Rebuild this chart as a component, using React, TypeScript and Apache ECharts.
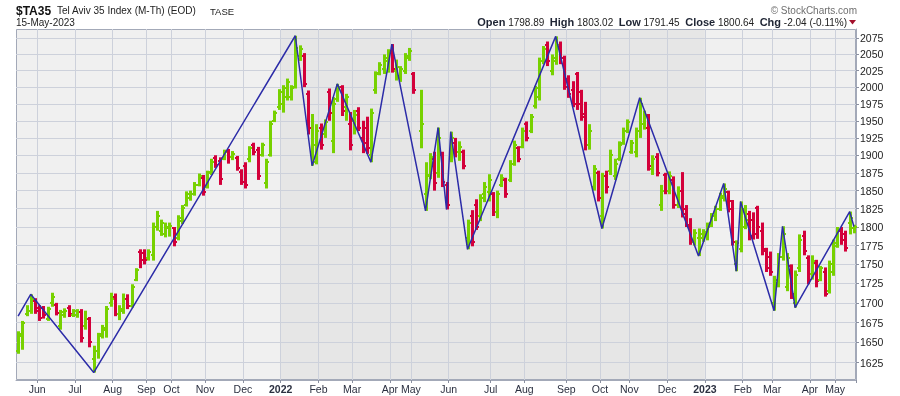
import React, { useEffect, useRef } from "react";
import * as echarts from "echarts";

// ---------- data ----------
const monthLabels = ["", "Jun", "Jul", "Aug", "Sep", "Oct", "Nov", "Dec", "2022", "Feb", "Mar", "Apr", "May", "Jun", "Jul", "Aug", "Sep", "Oct", "Nov", "Dec", "2023", "Feb", "Mar", "Apr", "May"];
const monthBarCounts = [5, 9, 9, 8, 6, 8, 9, 9, 9, 8, 9, 5, 9, 10, 8, 10, 8, 7, 9, 9, 9, 7, 9, 6, 5];

// [open, high, low, close] per bar (null = no trading)
const bars: (number[] | null)[] = [
  [1640, 1664, 1636, 1660], [1658, 1677, 1641, 1674], [1686, 1697, 1683, 1690], [1690, 1711, 1686, 1704], [1702, 1706, 1686, 1690],
  [1694, 1697, 1677, 1681], [1693, 1696, 1680, 1684], [1680, 1695, 1677, 1692], [1700, 1713, 1695, 1708], [1697, 1700, 1684, 1687],
  [1670, 1691, 1666, 1688], [1684, 1693, 1681, 1690], [1694, 1697, 1682, 1686], [1685, 1692, 1682, 1689], [1684, 1692, 1681, 1688],
  [1688, 1692, 1650, 1656], [1670, 1690, 1666, 1680], [1680, 1682, 1644, 1650], [1630, 1646, 1613, 1640], [1640, 1662, 1630, 1658],
  [1660, 1672, 1655, 1668], [1665, 1696, 1656, 1692], [1700, 1713, 1695, 1705], [1708, 1712, 1683, 1686], [1686, 1697, 1678, 1692],
  [1690, 1712, 1686, 1705], [1705, 1711, 1692, 1696], [1696, 1724, 1694, 1720], [1730, 1745, 1728, 1742], [1766, 1770, 1745, 1756],
  [1765, 1770, 1750, 1756], [1758, 1770, 1755, 1766], [1762, 1806, 1755, 1800], [1800, 1822, 1795, 1815], [1795, 1810, 1788, 1805],
  [1790, 1806, 1786, 1800], [1798, 1806, 1787, 1802], [1798, 1800, 1774, 1780], [1785, 1816, 1782, 1812], [1808, 1830, 1804, 1826],
  [1830, 1849, 1828, 1845], [1840, 1850, 1836, 1846], [1846, 1862, 1843, 1858], [1858, 1874, 1856, 1870], [1868, 1872, 1843, 1848],
  [1855, 1878, 1853, 1875], [1876, 1895, 1872, 1890], [1896, 1900, 1882, 1886], [1892, 1897, 1858, 1866], [1895, 1908, 1893, 1905],
  [1906, 1909, 1888, 1898], [1898, 1906, 1893, 1902], [1896, 1899, 1878, 1882], [1876, 1880, 1858, 1862], [1885, 1890, 1853, 1858],
  [1895, 1913, 1890, 1910], [1915, 1918, 1900, 1904], [1908, 1912, 1865, 1870], [1900, 1918, 1898, 1914], [1860, 1895, 1853, 1890],
  [1900, 1950, 1898, 1945], [1950, 1965, 1948, 1962], [1970, 1997, 1966, 1992], [1975, 2003, 1962, 1998], [1985, 2013, 1980, 2008],
  [1985, 2003, 1980, 1998], [2000, 2079, 1998, 2060], [2048, 2064, 2040, 2058], [2048, 2052, 2000, 2005], [1990, 1995, 1930, 1940],
  [1905, 1960, 1885, 1915], [1890, 1945, 1887, 1935], [1940, 1946, 1908, 1915], [1930, 1952, 1925, 1948], [1993, 1998, 1950, 1962],
  [1920, 1985, 1903, 1975], [1982, 2005, 1978, 2000], [2000, 2003, 1957, 1965], [1970, 1990, 1950, 1985], [1945, 1963, 1907, 1915],
  [1950, 1966, 1930, 1958], [1965, 1970, 1935, 1940], [1925, 1950, 1903, 1918], [1940, 1956, 1902, 1910], [1900, 1968, 1890, 1962],
  [1995, 2024, 1990, 2020], [2022, 2038, 2018, 2034], [2028, 2050, 2020, 2045], [2040, 2058, 2022, 2052], [2055, 2066, 2022, 2028],
  [2025, 2042, 2010, 2030], [2015, 2032, 2008, 2028], [2025, 2052, 2020, 2048], [2045, 2060, 2040, 2056], [2020, 2023, 1990, 1995],
  null, [1935, 1996, 1910, 1945], [1845, 1890, 1822, 1870], [1872, 1903, 1866, 1898], [1895, 1905, 1850, 1860],
  [1875, 1940, 1868, 1925], [1900, 1905, 1855, 1862], [1858, 1862, 1824, 1830], [1895, 1934, 1890, 1925], [1918, 1925, 1897, 1905],
  [1905, 1920, 1892, 1912], [1905, 1908, 1880, 1885], [1785, 1810, 1770, 1805], [1815, 1823, 1774, 1780], [1830, 1838, 1796, 1800],
  [1815, 1845, 1808, 1840], [1845, 1862, 1834, 1855], [1848, 1873, 1835, 1865], [1845, 1848, 1815, 1820], [1820, 1850, 1812, 1845],
  [1858, 1873, 1855, 1868], [1865, 1868, 1840, 1845], [1865, 1893, 1862, 1888], [1888, 1921, 1885, 1915], [1910, 1913, 1890, 1895],
  [1912, 1940, 1910, 1935], [1945, 1949, 1920, 1925], [1935, 1960, 1932, 1955], [1972, 2002, 1968, 1998], [1985, 2045, 1980, 2040],
  [2040, 2063, 2035, 2058], [2065, 2070, 2032, 2040], [2025, 2050, 2018, 2045], [2040, 2078, 2034, 2065], [2062, 2070, 2035, 2045],
  [2045, 2048, 1996, 2000], [2012, 2018, 1984, 1990], [1995, 2009, 1970, 1975], [2020, 2023, 1966, 1975], [1992, 1996, 1950, 1955],
  [1960, 1978, 1907, 1915], [1915, 1945, 1908, 1935], [1855, 1886, 1850, 1880], [1875, 1878, 1835, 1840], [1815, 1875, 1798, 1870],
  [1870, 1878, 1846, 1855], [1878, 1908, 1872, 1900], [1870, 1895, 1865, 1888], [1895, 1920, 1892, 1915], [1918, 1940, 1915, 1935],
  [1935, 1952, 1932, 1948], [1905, 1922, 1902, 1918], [1905, 1940, 1897, 1935], [1935, 1984, 1925, 1975], [1945, 1965, 1937, 1958],
  [1940, 1960, 1878, 1885], [1880, 1900, 1872, 1895], [1898, 1903, 1870, 1875], [1830, 1858, 1822, 1850], [1872, 1875, 1845, 1850],
  [1850, 1877, 1845, 1870], [1865, 1870, 1825, 1830], [1830, 1856, 1826, 1850], [1850, 1876, 1813, 1818], [1825, 1830, 1800, 1803],
  [1800, 1812, 1776, 1782], [1780, 1797, 1775, 1792], [1785, 1798, 1761, 1790], [1785, 1797, 1780, 1793], [1790, 1806, 1782, 1800],
  [1805, 1819, 1800, 1815], [1815, 1829, 1808, 1825], [1825, 1847, 1822, 1842], [1840, 1860, 1835, 1852], [1848, 1850, 1820, 1825],
  [1835, 1837, 1775, 1780], [1750, 1782, 1741, 1778], [1770, 1835, 1766, 1825], [1800, 1830, 1797, 1810], [1818, 1822, 1782, 1788],
  [1810, 1820, 1783, 1790], [1826, 1829, 1784, 1800], [1795, 1806, 1762, 1768], [1770, 1772, 1740, 1745], [1760, 1767, 1735, 1740],
  [1700, 1735, 1690, 1730], [1725, 1765, 1720, 1760], [1760, 1801, 1755, 1790], [1720, 1765, 1715, 1758], [1748, 1750, 1705, 1712],
  [1700, 1742, 1694, 1736], [1745, 1790, 1740, 1782], [1788, 1795, 1762, 1768], [1758, 1762, 1724, 1730], [1738, 1762, 1730, 1755],
  [1752, 1756, 1720, 1728], [1730, 1748, 1728, 1745], [1740, 1746, 1708, 1712], [1715, 1755, 1712, 1750], [1740, 1783, 1735, 1778],
  [1775, 1800, 1772, 1795], [1795, 1800, 1776, 1782], [1790, 1795, 1767, 1772], [1805, 1821, 1790, 1812], [1798.89, 1803.02, 1791.45, 1800.64],
];

// zigzag pivots: [bar index, price]
const zigzagPivots: [number, number][] = [
  [0, 1683], [3, 1711], [18, 1613], [66, 2079], [70, 1885], [76, 2005], [84, 1890], [89, 2066], [97, 1822], [100, 1940],
  [102, 1824], [103, 1934], [107, 1770], [128, 2078], [139, 1798], [148, 1984], [162, 1761], [168, 1860], [171, 1741],
  [172, 1835], [180, 1690], [182, 1801], [185, 1694], [198, 1821], [199, 1800.64],
];

const yTicks = [1625, 1650, 1675, 1700, 1725, 1750, 1775, 1800, 1825, 1850, 1875, 1900, 1925, 1950, 1975, 2000, 2025, 2050, 2075];
const yAxisMin = 1604;
const yAxisMax = 2089.6;
const shadedMonths = ["2022", "2023"]; // shading from the start of the first to the start of the second

const titleSymbol = "$TA35";
const titleName = "Tel Aviv 35 Index (M-Th) (EOD)";
const titleExchange = "TASE";
const titleDate = "15-May-2023";
const quoteOpen = "1798.89";
const quoteHigh = "1803.02";
const quoteLow = "1791.45";
const quoteClose = "1800.64";
const quoteChg = "-2.04 (-0.11%)";

// ---------- component ----------
const FONT = '"Liberation Sans", Arial, Helvetica, sans-serif';
const GREEN = "#77d100";
const RED = "#d3003a";

export default function App() {
  const ref = useRef<HTMLDivElement>(null);

  useEffect(() => {
    if (!ref.current) return;
    const chart = echarts.init(ref.current, null, { renderer: "svg" });
    const L = Math.log;

    const categories: string[] = [];
    const isMonthStart: boolean[] = [];
    const labelOf: Record<string, string> = {};
    const monthStartIdx: number[] = [];
    monthBarCounts.forEach((n, m) => {
      monthStartIdx.push(categories.length);
      for (let k = 0; k < n; k++) {
        const key = m + "-" + k;
        categories.push(key);
        isMonthStart.push(k === 0 && monthLabels[m] !== "");
        labelOf[key] = k === 0 ? monthLabels[m] : "";
      }
    });

    const shadeStart = monthStartIdx[monthLabels.indexOf(shadedMonths[0])];
    const shadeEnd = monthStartIdx[monthLabels.indexOf(shadedMonths[1])] - 1;

    const ohlcData = bars
      .map((b, i) => (b ? [i, L(b[0]), L(b[1]), L(b[2]), L(b[3])] : null))
      .filter((d) => d !== null);

    const zig: (number | null)[] = categories.map(() => null);
    zigzagPivots.forEach(([i, v]) => {
      zig[i] = L(v);
    });

    const lnTicks = yTicks.map((v) => L(v));
    const showAt = (i: number) => !!isMonthStart[i];

    const option: any = {
      animation: false,
      grid: { left: 16, right: 44, top: 29, bottom: 16, show: false },
      xAxis: {
        type: "category",
        data: categories,
        boundaryGap: true,
        axisLine: { show: true, lineStyle: { color: "#a3a9b8", width: 1 } },
        axisTick: { show: true, interval: showAt, length: 3, lineStyle: { color: "#8a90a0" } },
        axisLabel: {
          interval: showAt,
          margin: 3,
          padding: [0, 4, 0, 0],
          color: "#2b3040",
          fontSize: 10.5,
          fontFamily: FONT,
          formatter: (v: string) => {
            const lab = labelOf[v] || "";
            return /^\d{4}$/.test(lab) ? "{y|" + lab + "}" : lab;
          },
          rich: { y: { fontWeight: "bold", fontSize: 10.5, color: "#2b3040", fontFamily: FONT } },
        },
        splitLine: { show: true, interval: showAt, lineStyle: { color: "#cdd1db", width: 1 } },
      },
      yAxis: {
        type: "value",
        position: "right",
        min: L(yAxisMin),
        max: L(yAxisMax),
        axisLine: { show: true, lineStyle: { color: "#a3a9b8" } },
        axisTick: { show: true, length: 3, customValues: lnTicks, lineStyle: { color: "#8a90a0" } },
        axisLabel: {
          customValues: lnTicks,
          margin: 4,
          color: "#222",
          fontSize: 10.5,
          fontFamily: FONT,
          formatter: (v: number) => String(Math.round(Math.exp(v))),
        },
        splitLine: { show: true, lineStyle: { color: "#cdd1db", width: 1 } },
      },
      series: [
        {
          type: "custom",
          z: -1,
          silent: true,
          data: [[shadeStart, shadeEnd]],
          encode: { x: [0, 1] },
          renderItem: (params: any, api: any) => {
            const cs = params.coordSys;
            const bw = api.size([1, 0])[0];
            const a = api.coord([api.value(0), L(yAxisMin)])[0] - bw / 2;
            const b = api.coord([api.value(1), L(yAxisMin)])[0] + bw / 2;
            return {
              type: "group",
              children: [
                { type: "rect", shape: { x: cs.x, y: cs.y, width: cs.width, height: cs.height }, style: { fill: "#f0f0f0" } },
                { type: "rect", shape: { x: a, y: cs.y, width: b - a, height: cs.height }, style: { fill: "#e6e6e6" } },
                {
                  type: "rect",
                  shape: { x: cs.x + 0.5, y: cs.y + 0.5, width: cs.width - 1, height: cs.height - 1 },
                  style: { fill: "none", stroke: "#a3a9b8", lineWidth: 1 },
                },
              ],
            };
          },
        },
        {
          type: "custom",
          z: 2,
          silent: true,
          data: ohlcData,
          encode: { x: 0, y: [1, 2, 3, 4] },
          renderItem: (params: any, api: any) => {
            const i = api.value(0);
            const o = api.value(1);
            const h = api.value(2);
            const l = api.value(3);
            const c = api.value(4);
            const ph = api.coord([i, h]);
            const pl = api.coord([i, l]);
            const po = api.coord([i, o]);
            const pc = api.coord([i, c]);
            const x = Math.round(ph[0]);
            const col = c >= o ? GREEN : RED;
            return {
              type: "group",
              children: [
                { type: "rect", shape: { x: x - 1, y: ph[1], width: 3, height: Math.max(1, pl[1] - ph[1]) }, style: { fill: col } },
                { type: "rect", shape: { x: x - 2, y: Math.round(po[1]) - 1, width: 1, height: 2 }, style: { fill: col } },
                { type: "rect", shape: { x: x + 2, y: Math.round(pc[1]) - 1, width: 1, height: 2 }, style: { fill: col } },
              ],
            };
          },
        },
        {
          type: "line",
          z: 3,
          silent: true,
          data: zig,
          connectNulls: true,
          symbol: "none",
          lineStyle: { color: "#2c2ca8", width: 1.5 },
        },
      ],
      graphic: [
        { type: "text", x: 16, y: 10.5, style: { text: titleSymbol, font: "bold 12px " + FONT, fill: "#111", textVerticalAlign: "middle", verticalAlign: "middle" } },
        { type: "text", x: 57, y: 10.8, style: { text: titleName, font: "10px " + FONT, fill: "#222", textVerticalAlign: "middle", verticalAlign: "middle" } },
        { type: "text", x: 210, y: 11.2, style: { text: titleExchange, font: "9.5px " + FONT, fill: "#222", textVerticalAlign: "middle", verticalAlign: "middle" } },
        { type: "text", x: 16, y: 22.7, style: { text: titleDate, font: "10px " + FONT, fill: "#222", textVerticalAlign: "middle", verticalAlign: "middle" } },
        {
          type: "text",
          x: 857,
          y: 10.5,
          style: { text: "\u00a9 StockCharts.com", font: "10px " + FONT, fill: "#6f6f6f", textAlign: "right", align: "right", textVerticalAlign: "middle", verticalAlign: "middle" },
        },
        {
          type: "text",
          x: 847,
          y: 22.3,
          style: {
            text:
              "{b|Open} " + quoteOpen + "  {b|High} " + quoteHigh + "  {b|Low} " + quoteLow + "  {b|Close} " + quoteClose + "  {b|Chg} " + quoteChg,
            font: "10px " + FONT,
            fill: "#222",
            textAlign: "right",
            align: "right",
            textVerticalAlign: "middle",
            verticalAlign: "middle",
            rich: { b: { font: "bold 11px " + FONT, fill: "#1e2433" } },
          },
        },
        { type: "polygon", shape: { points: [[849, 20], [856, 20], [852.5, 24.5]] }, style: { fill: "#a3102c" } },
      ],
    };

    chart.setOption(option);
    return () => chart.dispose();
  }, []);

  return <div ref={ref} style={{ position: "fixed", left: 0, top: 0, width: 900, height: 396 }} />;
}
